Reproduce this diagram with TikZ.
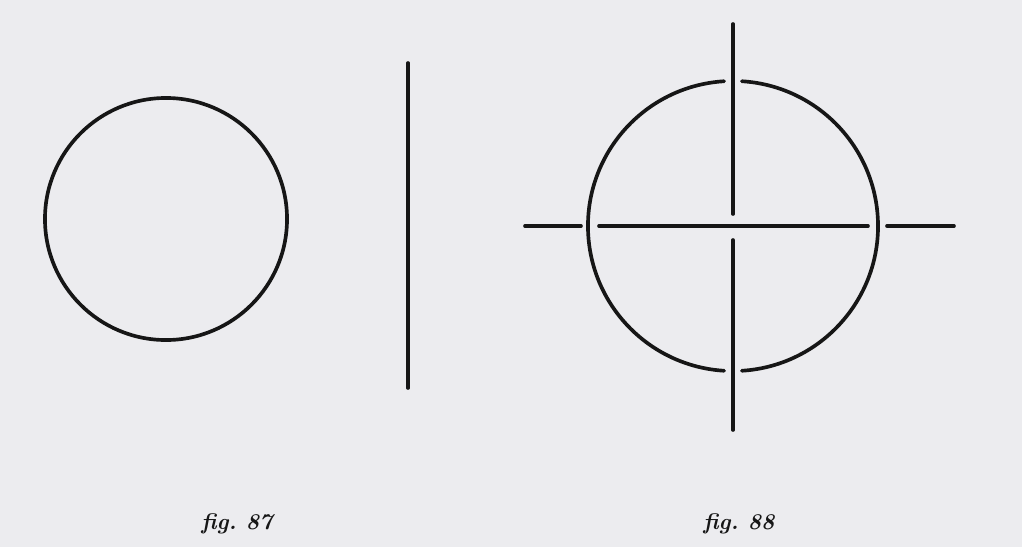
\documentclass[tikz,border=0pt]{standalone}
\usepackage{tikz}
\definecolor{paper}{RGB}{236,236,239}
\definecolor{ink}{RGB}{22,22,22}
\tikzset{
	stroke/.style={ink, line width=2.6pt, line cap=round},
	figlabel/.style={font=\fontsize{16}{18}\selectfont\bfseries\itshape, text=ink, inner sep=0}
}

\begin{document}
\begin{tikzpicture}[x=0.025cm, y=-0.025cm]
	% Page:
	\fill[paper] (0, 0) rectangle (1022, 547);
	% fig. 87:
	\coordinate (c87) at (166, 219);
	\draw[stroke] (c87) circle (3.025cm);
	\draw[stroke] (408, 63) -- (408, 388);
	\node[figlabel] (fig87) at (237, 524) {fig.\ 87};
	% fig. 88:
	\coordinate (c88) at (733, 226);
	\draw[stroke] (c88) ++(93.5:3.625cm) arc (93.5:266.5:3.625cm);
	\draw[stroke] (c88) ++(-86.5:3.625cm) arc (-86.5:86.5:3.625cm);
	\draw[stroke] (733, 24) -- (733, 214);
	\draw[stroke] (733, 240) -- (733, 430);
	\draw[stroke] (599, 226) -- (868, 226);
	\draw[stroke] (525, 226) -- (581, 226);
	\draw[stroke] (887, 226) -- (954, 226);
	\node[figlabel] (fig88) at (739, 524) {fig.\ 88};
\end{tikzpicture}
\end{document}
